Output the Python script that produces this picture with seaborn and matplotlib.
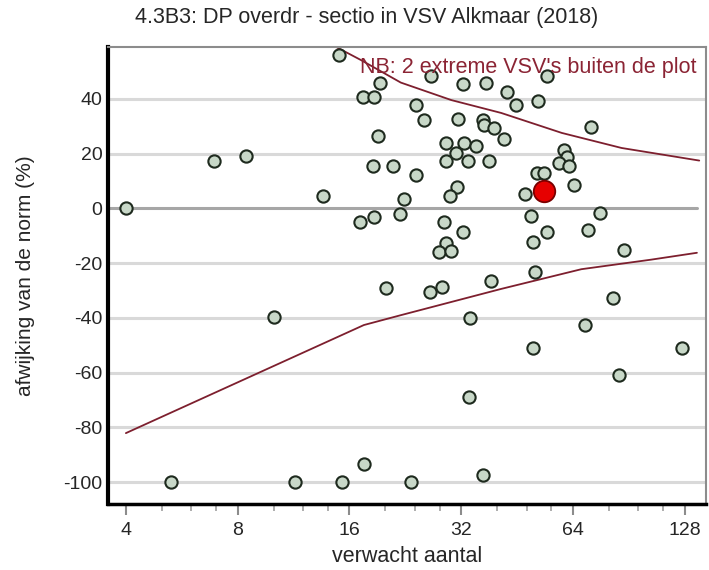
import matplotlib
matplotlib.use("Agg")
import matplotlib.pyplot as plt
import seaborn as sns
import pandas as pd
import numpy as np
from matplotlib.ticker import FixedLocator, NullFormatter

# ---- data ----
exp_n = [4.0, 6.9, 8.4, 5.3, 10.0, 11.4, 13.6, 15.0, 15.3, 17.4, 18.6, 19.3, 19.1,
         18.5, 21.0, 22.4, 21.9, 18.6, 17.1, 20.1, 17.5, 23.5, 36.7, 26.4, 28.4,
         38.4, 50.5, 33.8, 33.6, 50.0, 68.8, 82.0, 85.0, 125.6, 26.5, 32.3, 24.2,
         25.4, 31.4, 37.4, 42.4, 45.0, 51.6, 54.5, 36.6, 36.9, 39.3, 41.7, 29.1,
         32.6, 35.1, 31.0, 29.1, 33.3, 37.9, 24.2, 31.2, 29.9, 28.8, 32.3, 29.1,
         27.9, 30.0, 60.4, 61.7, 58.8, 62.5, 71.6, 51.1, 53.4, 47.6, 64.4, 75.6,
         49.4, 54.5, 70.1, 50.0, 87.7]
deviation = [0, 17.5, 19, -100, -39.5, -100, 4.4, 56, -100, 40.7, 40.7, 45.8, 26.5,
             15.6, 15.6, 3.6, -2.2, -3.3, -5.1, -29, -93.5, -100, -97.5, -30.5, -28.8,
             -26.5, -23.3, -40, -69, -51, -42.5, -32.7, -61, -51, 48.5, 45.3, 37.8,
             32.4, 32.7, 45.8, 42.5, 37.8, 39.3, 48.4, 32.5, 30.5, 29.5, 25.5, 24,
             24, 22.9, 20.4, 17.5, 17.5, 17.5, 12.4, 8, 4.4, -5.1, -8.7, -12.7,
             -16, -15.6, 21.5, 18.9, 16.7, 15.6, 29.8, 13.1, 13.1, 5.1, 8.7, -1.5,
             -2.9, -8.7, -8, -12.4, -15.3]

highlight_n = [53.6]
highlight_dev = [6.2]

upper_n = [14.5, 17.2, 22.0, 30.1, 41.0, 59.7, 86.5, 140.0]
upper_dev = [59.5, 54.2, 46.0, 39.6, 34.9, 27.6, 22.1, 17.5]
lower_n = [4.0, 17.5, 22.0, 41.0, 67.4, 104.0, 138.0]
lower_dev = [-82.1, -42.6, -39.0, -29.4, -22.2, -18.7, -16.2]

x_ticks = [4, 8, 16, 32, 64, 128]
x_minor = [5, 6, 7, 10, 12, 14, 20, 24, 28, 40, 48, 56, 80, 96, 112]
y_ticks = [40, 20, 0, -20, -40, -60, -80, -100]

title = "4.3B3: DP overdr - sectio in VSV Alkmaar (2018)"
note = "NB: 2 extreme VSV's buiten de plot"
xlabel = "verwacht aantal"
ylabel = "afwijking van de norm (%)"

# ---- plot ----
sns.set_style("white")
plt.rcParams['font.family'] = ['Liberation Sans', 'DejaVu Sans']

W, H = 709, 570
fig = plt.figure(figsize=(7.09, 5.70), dpi=100)
ax = fig.add_axes([108/W, 1-504/H, (706-108)/W, (504-47)/H])

df = pd.DataFrame({"n": exp_n, "dev": deviation})
up = pd.DataFrame({"n": upper_n, "dev": upper_dev})
lo = pd.DataFrame({"n": lower_n, "dev": lower_dev})
hi = pd.DataFrame({"n": highlight_n, "dev": highlight_dev})

ax.set_xscale('log', base=2)
ax.set_xlim(3.58, 146)
ax.set_ylim(-108, 59)

for yv in y_ticks:
    if yv == 0:
        continue
    ax.axhline(yv, color='#d9d9d9', lw=2.2, zorder=0)
ax.axhline(0, color='#a6a6a6', lw=2.2, zorder=0.5, xmax=0.985)

curve_col = '#7d1f2e'
sns.lineplot(data=up, x="n", y="dev", ax=ax, color=curve_col, lw=1.3,
             sort=False, estimator=None, zorder=2)
sns.lineplot(data=lo, x="n", y="dev", ax=ax, color=curve_col, lw=1.3,
             sort=False, estimator=None, zorder=2)

sns.scatterplot(data=df, x="n", y="dev", ax=ax, s=78, color='#c8d8c8',
                edgecolor='#1e2a1e', linewidth=1.5, zorder=3, clip_on=False)
sns.scatterplot(data=hi, x="n", y="dev", ax=ax, s=240, color='#e60000',
                edgecolor='#7a0000', linewidth=1.3, zorder=4)

fig.text(697/W, 1-68/H, note, ha='right', va='center',
         color='#8b2434', fontsize=15.5)

ax.xaxis.set_major_locator(FixedLocator(x_ticks))
ax.xaxis.set_minor_locator(FixedLocator(x_minor))
ax.set_xticklabels([str(t) for t in x_ticks])
ax.xaxis.set_minor_formatter(NullFormatter())
ax.set_yticks(y_ticks)
ax.set_yticklabels([str(t) for t in y_ticks])

ax.tick_params(axis='x', which='major', length=8, width=1.5, color='#8c8c8c',
               labelsize=14, pad=5, direction='out', bottom=True)
ax.tick_params(axis='x', which='minor', length=5, width=1.2, color='#a0a0a0',
               direction='out', bottom=True)
ax.tick_params(axis='y', length=0, labelsize=14, pad=4)

ax.set_xlabel(xlabel, fontsize=15.5)
ax.xaxis.label.set_va('center')
ax.xaxis.set_label_coords(0.5, (504-556)/457)
ax.set_ylabel(ylabel, fontsize=15)
ax.yaxis.label.set_va('center')
ax.yaxis.set_label_coords((25-108)/598, 0.5)

for side in ['top', 'right']:
    ax.spines[side].set_color('#8c8c8c')
    ax.spines[side].set_linewidth(1.5)
ax.spines['left'].set_color('black')
ax.spines['left'].set_linewidth(3)
ax.spines['bottom'].set_color('black')
ax.spines['bottom'].set_linewidth(2.5)

fig.text(367/W, 1-18/H, title, ha='center', va='center', fontsize=15.5)

fig.savefig("out.png", dpi=100)
